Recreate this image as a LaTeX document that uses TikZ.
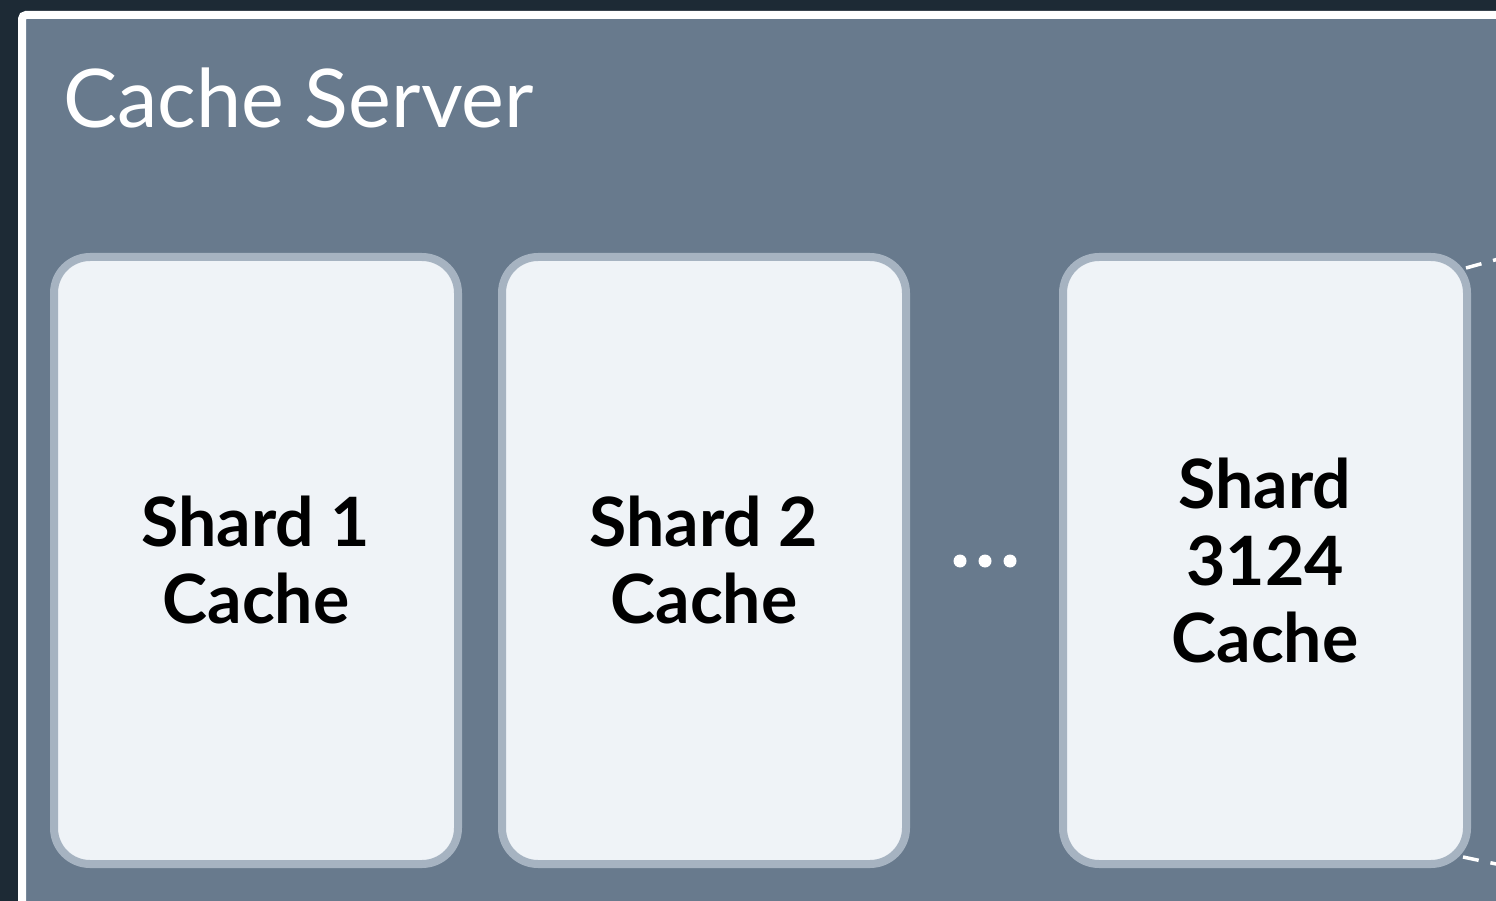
\documentclass[tikz,border=0pt]{standalone}
\usepackage{fontspec}
\setmainfont{Lato}
\usetikzlibrary{positioning}
\definecolor{pagedark}{HTML}{1D2A35}
\definecolor{serverfill}{HTML}{687A8D}
\definecolor{shardfill}{HTML}{EFF3F7}
\definecolor{shardline}{HTML}{A6B3C1}
\tikzstyle{server_box} = [
    draw=white, 
    fill=serverfill, 
    line width=8pt, 
    rounded corners=4pt
]
\tikzstyle{shard_node} = [
    rectangle, 
    draw=shardline, 
    fill=shardfill, 
    line width=8pt, 
    rounded corners=36pt, 
    align=center, 
    text=black, 
    font=\fontsize{68}{77}\selectfont\bfseries, 
    minimum width=404pt, 
    minimum height=607pt, 
    inner sep=0pt
]
\tikzstyle{dot} = [
    circle, 
    fill=white, 
    inner sep=0pt, 
    minimum size=13pt
]
\tikzstyle{dash_link} = [
    draw=white, 
    line width=3.5pt, 
    dash pattern=on 16pt off 12pt
]

\begin{document}
\begin{tikzpicture}[x=1pt, y=-1pt]
\useasboundingbox (0,0) rectangle (1496,901);
\fill[pagedark] (0,0) rectangle (1496,901);
% server frame runs off the right and bottom edges
\draw[server_box] (22,15) rectangle (1540,940);
\node[anchor=base west, text=white, font=\fontsize{81}{90}\selectfont, inner sep=0pt] (title) at (63,128) {Cache Server};

\node[shard_node] (shard1) at (256,560.5) {Shard 1\\Cache};
\node[shard_node] (shard2) at (704,560.5) {Shard 2\\Cache};
\node[shard_node] (shard3124) at (1265,560.5) {Shard\\3124\\Cache};

\node[dot] (dot1) at (960,561) {};
\node[dot] (dot2) at (985,561) {};
\node[dot] (dot3) at (1010,561) {};

\coordinate (topout) at (1520,253);
\coordinate (botout) at (1520,869);
\draw[dash_link] ([shift={(-5,15)}]shard3124.north east) -- (topout);
\draw[dash_link] ([shift={(-8,-11)}]shard3124.south east) -- (botout);
\end{tikzpicture}
\end{document}
